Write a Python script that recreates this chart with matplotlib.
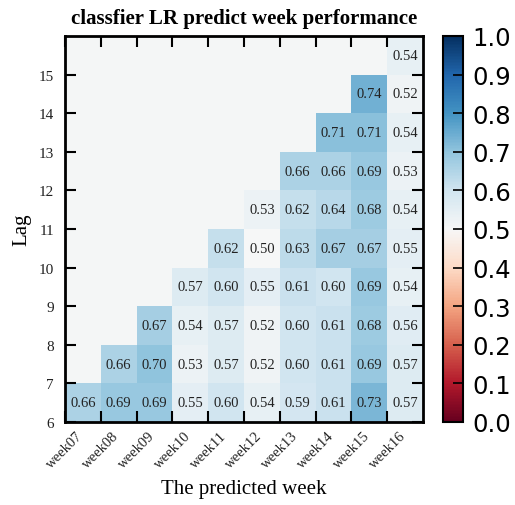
import numpy as np
import matplotlib
matplotlib.use("Agg")
import matplotlib.pyplot as plt

# columns: predicted week, rows: lag (6 at the bottom)
WEEKS = ["week07", "week08", "week09", "week10", "week11",
         "week12", "week13", "week14", "week15", "week16"]
LAGS = [6, 7, 8, 9, 10, 11, 12, 13, 14, 15]

nan = np.nan
LAG06 = [0.66, 0.69, 0.69, 0.55, 0.60, 0.54, 0.59, 0.61, 0.73, 0.57]
LAG07 = [nan, 0.66, 0.70, 0.53, 0.57, 0.52, 0.60, 0.61, 0.69, 0.57]
LAG08 = [nan, nan, 0.67, 0.54, 0.57, 0.52, 0.60, 0.61, 0.68, 0.56]
LAG09 = [nan, nan, nan, 0.57, 0.60, 0.55, 0.61, 0.60, 0.69, 0.54]
LAG10 = [nan, nan, nan, nan, 0.62, 0.50, 0.63, 0.67, 0.67, 0.55]
LAG11 = [nan, nan, nan, nan, nan, 0.53, 0.62, 0.64, 0.68, 0.54]
LAG12 = [nan, nan, nan, nan, nan, nan, 0.66, 0.66, 0.69, 0.53]
LAG13 = [nan, nan, nan, nan, nan, nan, nan, 0.71, 0.71, 0.54]
LAG14 = [nan, nan, nan, nan, nan, nan, nan, nan, 0.74, 0.52]
LAG15 = [nan, nan, nan, nan, nan, nan, nan, nan, nan, 0.54]

scores = np.array([LAG06, LAG07, LAG08, LAG09, LAG10,
                   LAG11, LAG12, LAG13, LAG14, LAG15])
masked = np.ma.masked_invalid(scores)

SERIF = "Liberation Serif"

cmap = plt.get_cmap("RdBu").copy()
cmap.set_bad("#f4f6f6")

fig = plt.figure(figsize=(5.15, 5.06), dpi=100)
ax = fig.add_axes([65/515, 1 - 423/506, (423 - 65)/515, (423 - 37)/506])
cax = fig.add_axes([443/515, 1 - 423/506, 20/515, (423 - 37)/506])

mesh = ax.pcolormesh(masked, cmap=cmap, vmin=0.0, vmax=1.0)

for i in range(len(LAGS)):
    for j in range(len(WEEKS)):
        v = scores[i, j]
        if not np.isnan(v):
            ax.text(j + 0.5, i + 0.5, f"{v:.2f}", ha="center", va="center",
                    fontsize=10.5, family=SERIF, color="#222222")

ax.set_xlim(0, len(WEEKS))
ax.set_ylim(0, len(LAGS))
ax.set_xticks(np.arange(len(WEEKS)))
ax.set_xticklabels(WEEKS, rotation=45, ha="center", family=SERIF, fontsize=10.5)
ax.set_yticks(np.arange(len(LAGS)))
ax.set_yticklabels([str(l) for l in LAGS], family=SERIF, fontsize=11)
ax.tick_params(direction="in", length=8, width=1.5, top=True, right=True,
               labelcolor="#222222")
ax.tick_params(axis="x", pad=5)
ax.tick_params(axis="y", pad=8)
for s in ax.spines.values():
    s.set_linewidth(2)

ax.set_title("classfier LR predict week performance", family=SERIF,
             fontsize=15, fontweight="bold", pad=9)
ax.set_xlabel("The predicted week", family=SERIF, fontsize=15, labelpad=6)
ax.set_ylabel("Lag", family=SERIF, fontsize=15, labelpad=5)

cb = fig.colorbar(mesh, cax=cax, ticks=np.linspace(0, 1, 11))
cb.ax.tick_params(direction="in", length=7, width=1.2, labelsize=17.5, pad=7)
cb.outline.set_linewidth(1.5)
cb.ax.set_yticklabels([f"{t:.1f}" for t in np.linspace(0, 1, 11)])

fig.savefig("out.png", dpi=100)
